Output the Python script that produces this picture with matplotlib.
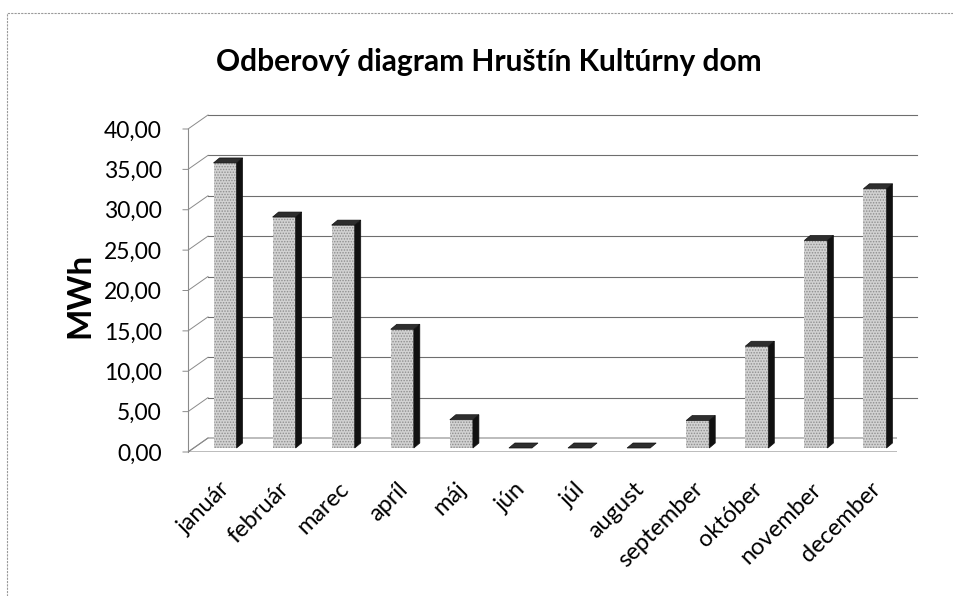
import matplotlib.pyplot as plt
from matplotlib.patches import Polygon
from matplotlib.lines import Line2D
from matplotlib.transforms import ScaledTranslation

plt.rcParams['font.family'] = ['Lato', 'DejaVu Sans']
plt.rcParams['hatch.linewidth'] = 0.7

# data
mesiace = ['január', 'február', 'marec', 'apríl', 'máj', 'jún', 'júl',
           'august', 'september', 'október', 'november', 'december']
odber = [35.3, 28.6, 27.6, 14.7, 3.5, 0.0, 0.0, 0.0, 3.4, 12.6, 25.7, 32.1]
y_ticks = [0, 5, 10, 15, 20, 25, 30, 35, 40]

W, H = 954, 596
fig = plt.figure(figsize=(W / 100, H / 100), dpi=100)

# plot area in pixels (front plane)
left, right, top, bottom = 188, 897, 129, 452
ax = fig.add_axes([left / W, 1 - bottom / H, (right - left) / W, (bottom - top) / H])
ax.set_xlim(-0.5, len(mesiace) - 0.5)
ax.set_ylim(0, 40)

px_x = len(mesiace) / (right - left)   # data units per pixel
px_y = 40 / (bottom - top)

def off(dx, dy):
    return ax.transData + ScaledTranslation(dx / 100, dy / 100, fig.dpi_scale_trans)

# back wall offset, bar plane offset
bw_dx, bw_dy = 20, 14
bar_dx, bar_dy = 7.5, 4

# floor
floor = Polygon([(-0.5, 0), (11.5, 0), (11.5 + bw_dx * px_x, bw_dy * px_y),
                 (-0.5 + bw_dx * px_x, bw_dy * px_y)],
                closed=True, facecolor='white', edgecolor='#8a8a8a', lw=0.8, zorder=1)
ax.add_patch(floor)

# back wall gridlines + slanted connectors
for v in y_ticks:
    if v > 0:
        ax.plot([-0.5, 11.5], [v, v], color='#6e6e6e', lw=0.8,
                transform=off(bw_dx, bw_dy), zorder=1, clip_on=False)
    ax.plot([-0.5 - 5 * px_x, -0.5, -0.5 + bw_dx * px_x],
            [v, v, v + bw_dy * px_y], color='#8a8a8a', lw=0.7, clip_on=False, zorder=1)

# bars with pseudo 3D faces
bw = 0.39
sx, sy = 6 * px_x, 5 * px_y
for i, v in enumerate(odber):
    t = off(bar_dx, bar_dy)
    x0, x1 = i - bw / 2, i + bw / 2
    if v > 0:
        ax.bar(i, v, width=bw, color='#d2d2d2', hatch='......', edgecolor='#8e8e8e',
               linewidth=0, transform=t, zorder=3, clip_on=False)
        ax.add_patch(Polygon([(x1, 0), (x1 + sx, sy), (x1 + sx, v + sy), (x1, v)],
                             closed=True, facecolor='#111111', edgecolor='#111111',
                             lw=0.5, transform=t, zorder=3, clip_on=False))
    ax.add_patch(Polygon([(x0, v), (x1, v), (x1 + sx, v + sy), (x0 + sx, v + sy)],
                         closed=True, facecolor='#2e2e2e', edgecolor='#111111',
                         lw=0.5, transform=t, zorder=4, clip_on=False))

# axes styling
for s in ['top', 'right', 'bottom']:
    ax.spines[s].set_visible(False)
ax.spines['left'].set_color('#8a8a8a')
ax.spines['left'].set_linewidth(0.8)
ax.set_yticks(y_ticks)
ax.set_yticklabels([f'{v:.2f}'.replace('.', ',') for v in y_ticks], fontsize=16.5)
ax.tick_params(axis='y', length=0, pad=19)
ax.set_xticks(range(len(mesiace)))
ax.set_xticklabels(mesiace, rotation=45, ha='right', rotation_mode='anchor', fontsize=17)
ax.tick_params(axis='x', length=0, pad=19)
for lab in ax.get_xticklabels():
    lab.set_transform(lab.get_transform() + ScaledTranslation(0.02, 0, fig.dpi_scale_trans))
ax.set_facecolor('none')

ax.set_ylabel('MWh', fontsize=24, fontweight='bold')
ax.yaxis.set_label_coords(94 / W, 1 - 295 / H, transform=fig.transFigure)

fig.text(489 / W, 1 - 62 / H, 'Odberový diagram Hruštín Kultúrny dom',
         ha='center', va='center', fontsize=21.5, fontweight='bold')

# chart area frame (top and left edges visible in the scan)
fig.add_artist(Line2D([7 / W, 7 / W, 1], [0, 1 - 13 / H, 1 - 13 / H],
                      transform=fig.transFigure, color='#9a9a9a', lw=0.8, ls=(0, (2, 1))))

fig.savefig('out.png', dpi=100)
